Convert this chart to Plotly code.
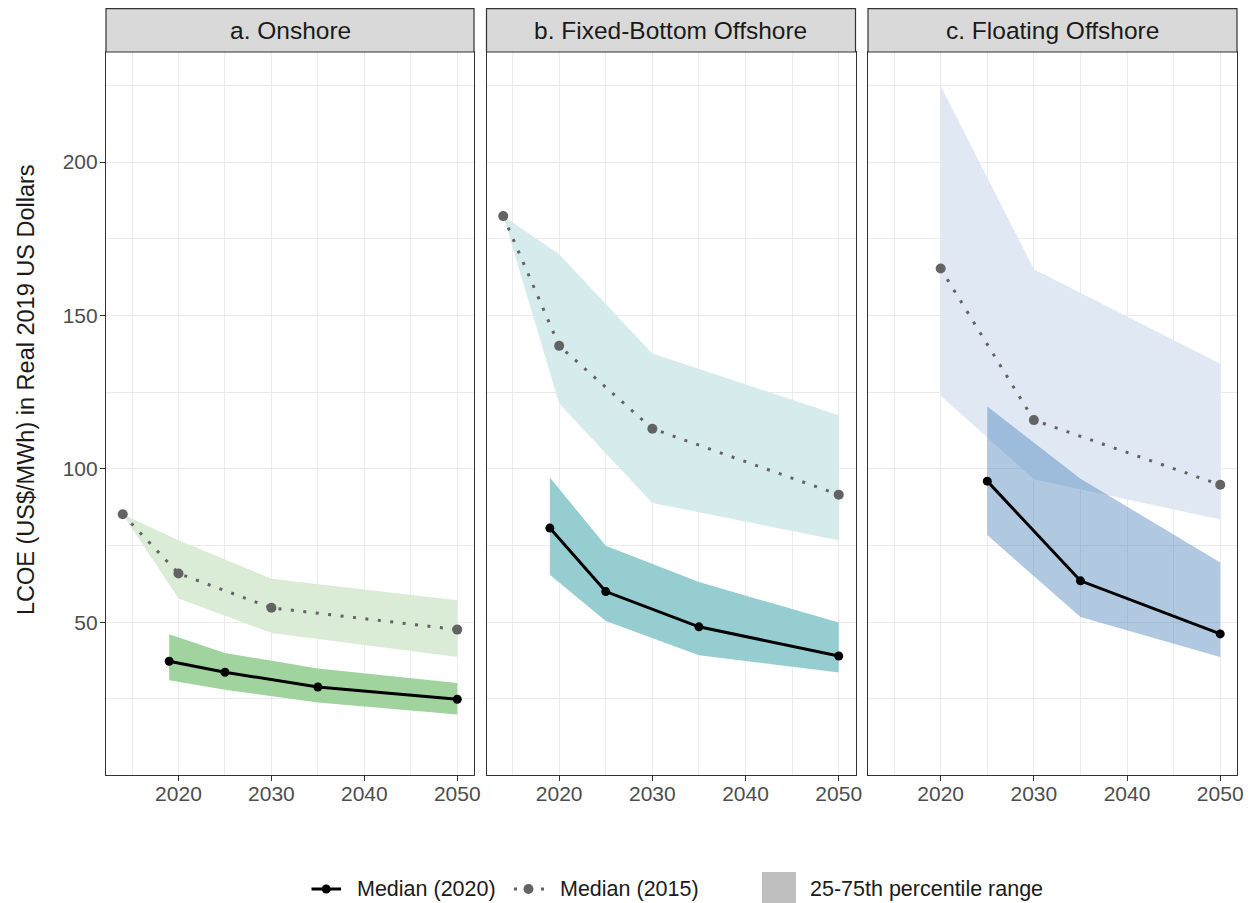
import plotly.graph_objects as go

# ---------------- data ----------------
panel_titles = ["a. Onshore", "b. Fixed-Bottom Offshore", "c. Floating Offshore"]

# Onshore
on_x20 = [2019, 2025, 2035, 2050]
on_med20 = [37.3, 33.7, 28.9, 24.9]
on_lo20 = [31.1, 28.0, 23.8, 19.9]
on_hi20 = [46.1, 40.0, 34.9, 30.2]
on_x15 = [2014, 2020, 2030, 2050]
on_med15 = [85.2, 65.9, 54.7, 47.6]
on_lo15 = [85.2, 57.7, 46.5, 38.7]
on_hi15 = [85.2, 76.7, 64.2, 57.2]

# Fixed-bottom offshore
fb_x20 = [2019, 2025, 2035, 2050]
fb_med20 = [80.7, 60.0, 48.5, 39.0]
fb_lo20 = [65.5, 50.4, 39.2, 33.6]
fb_hi20 = [97.2, 74.9, 63.1, 49.9]
fb_x15 = [2014, 2020, 2030, 2050]
fb_med15 = [182.4, 140.1, 113.1, 91.6]
fb_lo15 = [182.4, 121.3, 88.9, 76.7]
fb_hi15 = [182.4, 170.0, 137.6, 117.5]

# Floating offshore
fl_x20 = [2025, 2035, 2050]
fl_med20 = [96.0, 63.5, 46.2]
fl_lo20 = [78.4, 51.7, 38.7]
fl_hi20 = [120.3, 96.8, 69.5]
fl_x15 = [2020, 2030, 2050]
fl_med15 = [165.3, 115.9, 94.8]
fl_lo15 = [123.8, 96.6, 83.5]
fl_hi15 = [224.8, 165.1, 134.3]

x_ticks = [2020, 2030, 2040, 2050]
x_minor = [2015, 2025, 2035, 2045]
y_ticks = [50, 100, 150, 200]
y_minor = [25, 75, 125, 175, 225]

legend_labels = ["Median (2020)", "Median (2015)", "25-75th percentile range"]
y_title = "LCOE (US$/MWh) in Real 2019 US Dollars"

# ---------------- styling ----------------
# page has an 8px body margin, so the figure is drawn 8px smaller
W, H = 1247, 895
ML, MR, MT, MB = 98, 18, 0, 128
PW, PH = W - ML - MR, H - MT - MB


def px_x(px):  # page pixel -> paper x
    return (px - 8 - ML) / PW


def px_y(py):  # page pixel -> paper y
    return (H - MB - (py - 8)) / PH


panel_px = [(106, 474), (486.5, 855.5), (868, 1237)]
domains = [[px_x(a), px_x(b)] for a, b in panel_px]
domains[-1][1] = 1.0
domains[0][0] = 0.0
ytop = px_y(52)

panels = [
    dict(x20=on_x20, m20=on_med20, lo20=on_lo20, hi20=on_hi20,
         x15=on_x15, m15=on_med15, lo15=on_lo15, hi15=on_hi15,
         light="#DAECD6", dark="#A1D39E"),
    dict(x20=fb_x20, m20=fb_med20, lo20=fb_lo20, hi20=fb_hi20,
         x15=fb_x15, m15=fb_med15, lo15=fb_lo15, hi15=fb_hi15,
         light="#D5EBEC", dark="#96CDD0"),
    dict(x20=fl_x20, m20=fl_med20, lo20=fl_lo20, hi20=fl_hi20,
         x15=fl_x15, m15=fl_med15, lo15=fl_lo15, hi15=fl_hi15,
         light="#E0E8F3", dark="rgba(58,120,180,0.40)"),
]

GREY = "#636363"
DOT = "3px,9.5px"
FONT = "Liberation Sans, Arial, sans-serif"

fig = go.Figure()
for i, p in enumerate(panels):
    xa = "x" if i == 0 else f"x{i+1}"
    ya = "y" if i == 0 else f"y{i+1}"
    fig.add_trace(go.Scatter(
        x=p["x15"] + p["x15"][::-1], y=p["hi15"] + p["lo15"][::-1],
        fill="toself", fillcolor=p["light"], mode="lines", line=dict(width=0),
        xaxis=xa, yaxis=ya, showlegend=False, hoverinfo="skip"))
    fig.add_trace(go.Scatter(
        x=p["x20"] + p["x20"][::-1], y=p["hi20"] + p["lo20"][::-1],
        fill="toself", fillcolor=p["dark"], mode="lines", line=dict(width=0),
        xaxis=xa, yaxis=ya, showlegend=False, hoverinfo="skip"))
    fig.add_trace(go.Scatter(
        x=p["x15"], y=p["m15"], mode="lines+markers",
        line=dict(color=GREY, width=3, dash=DOT),
        marker=dict(color=GREY, size=10),
        xaxis=xa, yaxis=ya, showlegend=False))
    fig.add_trace(go.Scatter(
        x=p["x20"], y=p["m20"], mode="lines+markers",
        line=dict(color="black", width=3),
        marker=dict(color="black", size=9),
        xaxis=xa, yaxis=ya, showlegend=False))

layout = dict(
    width=W, height=H,
    margin=dict(l=ML, r=MR, t=MT, b=MB),
    paper_bgcolor="white", plot_bgcolor="white",
    font=dict(family=FONT, color="#1A1A1A"),
    showlegend=False,
)

for i, dom in enumerate(domains):
    sx = "" if i == 0 else str(i + 1)
    layout[f"xaxis{sx}"] = dict(
        domain=dom, range=[2012.2, 2051.8], anchor=f"y{sx}",
        tickvals=x_ticks, ticks="outside", ticklen=5, tickwidth=1.1,
        tickcolor="#333333", showline=True, mirror=True, linecolor="#333333",
        linewidth=1.2, showgrid=True, gridcolor="#EBEBEB", gridwidth=1.1,
        zeroline=False, tickfont=dict(size=21, color="#4D4D4D", family=FONT),
        ticklabelstandoff=-5,
        minor=dict(tickvals=x_minor, showgrid=True, gridcolor="#EBEBEB",
                   gridwidth=0.7, ticks=""),
    )
    layout[f"yaxis{sx}"] = dict(
        domain=[0, ytop], range=[0.2, 235.9], anchor=f"x{sx}",
        tickvals=y_ticks, ticks="outside" if i == 0 else "", ticklen=5,
        tickwidth=1.1, tickcolor="#333333", showticklabels=(i == 0),
        showline=True, mirror=True, linecolor="#333333", linewidth=1.2,
        showgrid=True, gridcolor="#EBEBEB", gridwidth=1.1, zeroline=False,
        tickfont=dict(size=21, color="#4D4D4D", family=FONT),
        ticklabelstandoff=-2,
        minor=dict(tickvals=y_minor, showgrid=True, gridcolor="#EBEBEB",
                   gridwidth=0.7, ticks=""),
    )

shapes = []
annotations = []
for i, dom in enumerate(domains):
    shapes.append(dict(type="rect", xref="paper", yref="paper",
                       x0=dom[0], x1=dom[1], y0=ytop, y1=px_y(8.6),
                       fillcolor="#D9D9D9", line=dict(color="#333333", width=1.2)))
    annotations.append(dict(text=panel_titles[i], xref="paper", yref="paper",
                            x=(dom[0] + dom[1]) / 2, y=px_y(30.5), showarrow=False,
                            xanchor="center", yanchor="middle",
                            font=dict(size=24.5, color="#1A1A1A", family=FONT)))

annotations.append(dict(text=y_title, xref="paper", yref="paper",
                        x=px_x(26), y=px_y(390), textangle=-90, showarrow=False,
                        xanchor="center", yanchor="middle",
                        font=dict(size=23.5, color="#1A1A1A", family=FONT)))

# manual legend
ly = px_y(889)
rx = 1 / PW
ry = 1 / PH
shapes.append(dict(type="line", xref="paper", yref="paper",
                   x0=px_x(311.5), x1=px_x(341), y0=ly, y1=ly,
                   line=dict(color="black", width=3)))
shapes.append(dict(type="circle", xref="paper", yref="paper",
                   x0=px_x(326.2) - 4.5 * rx, x1=px_x(326.2) + 4.5 * rx,
                   y0=ly - 4.5 * ry, y1=ly + 4.5 * ry,
                   fillcolor="black", line=dict(width=0)))
annotations.append(dict(text=legend_labels[0], xref="paper", yref="paper",
                        x=px_x(355), y=ly, showarrow=False, xanchor="left",
                        yanchor="middle", font=dict(size=21.5, color="#1A1A1A", family=FONT)))
shapes.append(dict(type="line", xref="paper", yref="paper",
                   x0=px_x(514), x1=px_x(546), y0=ly, y1=ly,
                   line=dict(color=GREY, width=3, dash="3px,10.5px")))
shapes.append(dict(type="circle", xref="paper", yref="paper",
                   x0=px_x(528.5) - 5 * rx, x1=px_x(528.5) + 5 * rx,
                   y0=ly - 5 * ry, y1=ly + 5 * ry,
                   fillcolor=GREY, line=dict(width=0)))
annotations.append(dict(text=legend_labels[1], xref="paper", yref="paper",
                        x=px_x(558), y=ly, showarrow=False, xanchor="left",
                        yanchor="middle", font=dict(size=21.5, color="#1A1A1A", family=FONT)))
shapes.append(dict(type="rect", xref="paper", yref="paper",
                   x0=px_x(762), x1=px_x(796), y0=px_y(906), y1=px_y(872),
                   fillcolor="#BFBFBF", line=dict(width=0)))
annotations.append(dict(text=legend_labels[2], xref="paper", yref="paper",
                        x=px_x(808), y=ly, showarrow=False, xanchor="left",
                        yanchor="middle", font=dict(size=21.5, color="#1A1A1A", family=FONT)))

layout["shapes"] = shapes
layout["annotations"] = annotations
fig.update_layout(**layout)

fig.write_html("out.html")
